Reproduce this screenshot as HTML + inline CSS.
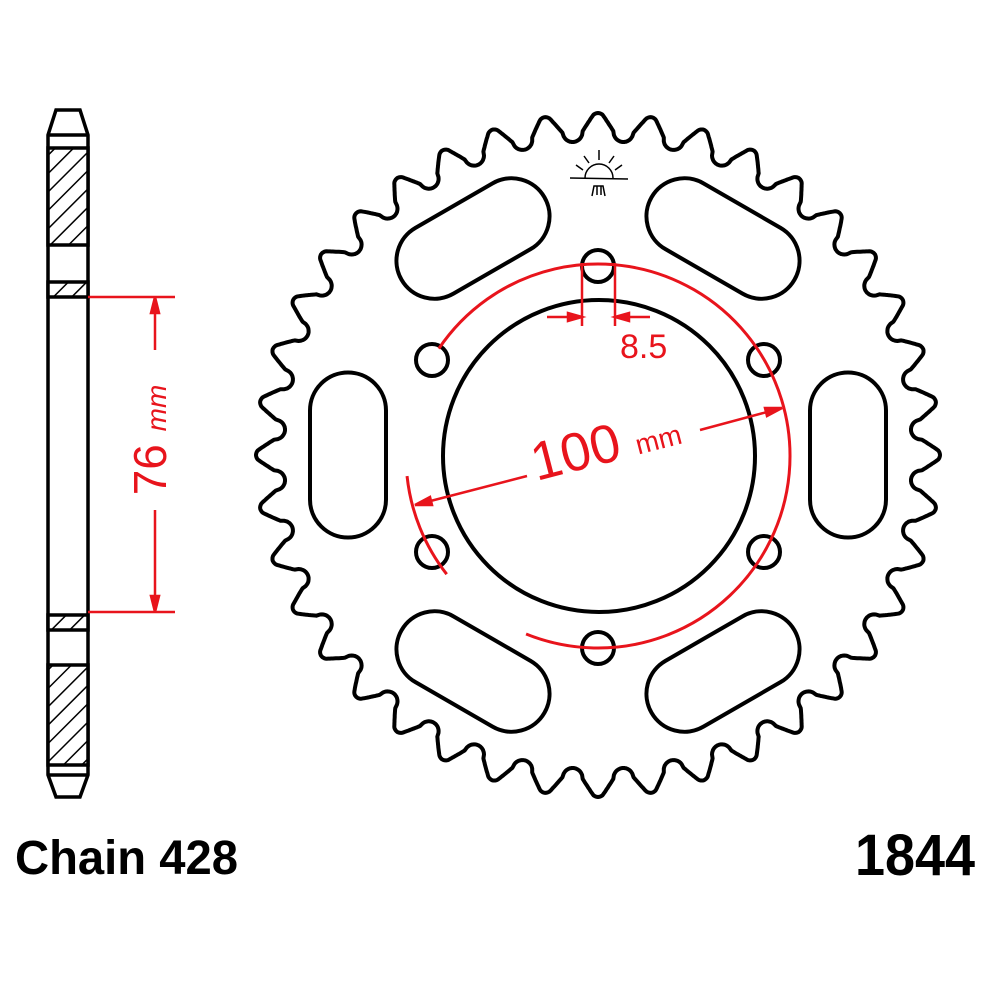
<!DOCTYPE html>
<html><head><meta charset="utf-8"><style>
html,body{margin:0;padding:0;background:#fff;}
svg{display:block}
</style></head><body>
<svg id="s" width="1000" height="1000" viewBox="0 0 1000 1000" xmlns="http://www.w3.org/2000/svg">
<defs>
<pattern id="h" patternUnits="userSpaceOnUse" width="13" height="13" patternTransform="rotate(45)">
<rect width="13" height="13" fill="#fff"/><line x1="0" y1="0" x2="0" y2="13" stroke="#000" stroke-width="3"/>
</pattern>
</defs>
<g stroke="#000" stroke-width="3.5" fill="none">
<path d="M56,110 L80,110 L88,135 L88,775 L80,797 L56,797 L48,775 L48,135 Z" fill="#fff"/>
<rect x="48" y="148" width="40" height="97" fill="url(#h)"/>
<rect x="48" y="282" width="40" height="15" fill="url(#h)"/>
<rect x="48" y="615" width="40" height="15" fill="url(#h)"/>
<rect x="48" y="665" width="40" height="100" fill="url(#h)"/>
<line x1="48" y1="135" x2="88" y2="135"/>
<line x1="48" y1="775" x2="88" y2="775"/>
</g>
<g stroke="#e8141c" stroke-width="2.5" fill="#e8141c">
<line x1="88" y1="297" x2="175" y2="297"/>
<line x1="88" y1="612" x2="175" y2="612"/>
<line x1="155" y1="297" x2="155" y2="350"/>
<line x1="155" y1="510" x2="155" y2="612"/>
<path d="M155,297 L151,313 L159,313 Z"/>
<path d="M155,612 L151,596 L159,596 Z"/>
</g>
<text transform="translate(166,440) rotate(-90)" text-anchor="middle" font-family="Liberation Sans, sans-serif" fill="#e8141c" font-size="46">76 <tspan font-size="28" font-style="italic">mm</tspan></text>

<path id="teeth" fill="none" stroke="#000" stroke-width="4" stroke-linejoin="round"/>
<g fill="none" stroke="#000" stroke-width="4">
<circle cx="599" cy="456" r="156"/>
<circle cx="598" cy="266" r="16"/>
<circle cx="598" cy="648" r="16"/>
<circle cx="432" cy="360" r="16"/>
<circle cx="764" cy="360" r="16"/>
<circle cx="432" cy="552" r="16"/>
<circle cx="764" cy="552" r="16"/>
<g id="slots"></g>
</g>
<g stroke="#000" stroke-width="1.5" fill="none">
<path d="M585,178 A14,14 0 0 1 613,178"/>
<line x1="570" y1="178" x2="628" y2="179"/>
<line x1="599" y1="160" x2="599" y2="150"/>
<line x1="589" y1="163" x2="584" y2="156"/>
<line x1="609" y1="163" x2="614" y2="156"/>
<line x1="583" y1="170" x2="576" y2="165"/>
<line x1="615" y1="170" x2="622" y2="165"/>
<path d="M592,196 L594,186 L603,186 L605,196 M597,186 L597,195 M601,186 L601,195"/>
</g>
<g stroke="#e8141c" stroke-width="3" fill="none" id="red"></g>
<g stroke="#e8141c" stroke-width="2.5" fill="#e8141c">
<line x1="415" y1="505" x2="527" y2="476"/>
<line x1="700" y1="430" x2="782" y2="408"/>
<path d="M415,505 L430,497 L432,505 Z"/>
<path d="M782,408 L767,416 L765,408 Z"/>
<line x1="582" y1="263" x2="582" y2="326"/>
<line x1="615" y1="263" x2="615" y2="326"/>
<line x1="547" y1="317" x2="582" y2="317"/>
<line x1="615" y1="317" x2="650" y2="317"/>
<path d="M582,317 L568,313 L568,321 Z"/>
<path d="M615,317 L629,313 L629,321 Z"/>
</g>
<text x="620" y="358" font-family="Liberation Sans, sans-serif" fill="#e8141c" font-size="34">8.5</text>
<text transform="translate(610,462) rotate(-14.5)" text-anchor="middle" font-family="Liberation Sans, sans-serif" fill="#e8141c" font-size="54">100 <tspan font-size="28">mm</tspan></text>

<text x="15" y="874" font-family="Liberation Sans, sans-serif" font-weight="bold" font-size="48" textLength="223" lengthAdjust="spacingAndGlyphs">Chain 428</text>
<text x="855" y="875" font-family="Liberation Sans, sans-serif" font-weight="bold" font-size="58" textLength="120" lengthAdjust="spacingAndGlyphs">1844</text>
</svg>
<script>
(function(){
var cx=598,cy=455,N=40,p=2*Math.PI/N,d="";
var Rc=324,rho=10,tip=0.09;
function r(u){var a=Math.abs(u);
 if(a<tip)return 342-2*(a/tip)*(a/tip);
 var e=0.5-rho/(p*Rc);
 if(a<e)return 340-(340-Rc)*(a-tip)/(e-tip);
 var s=(0.5-a)*p*Rc;return Rc-Math.sqrt(Math.max(0,rho*rho-s*s));}
var M=60;
for(var k=0;k<N;k++){for(var j=0;j<M;j++){var u=-0.5+j/M;var th=-Math.PI/2+(k+u)*p;var R=r(u);
 var x=cx+R*Math.cos(th),y=cy+R*Math.sin(th);d+=(d?"L":"M")+x.toFixed(1)+","+y.toFixed(1);}}
d+="Z";document.getElementById("teeth").setAttribute("d",d);
var g=document.getElementById("slots"),ns="http://www.w3.org/2000/svg";
[180,240,300,0,60,120].forEach(function(a){var t=a*Math.PI/180,R=250;
 var x=cx+R*Math.cos(t),y=cy+R*Math.sin(t);
 var rc=document.createElementNS(ns,"rect");var L=165,W=76;
 rc.setAttribute("x",-W/2);rc.setAttribute("y",-L/2);rc.setAttribute("width",W);rc.setAttribute("height",L);
 rc.setAttribute("rx",W/2);rc.setAttribute("ry",W/2);
 rc.setAttribute("transform","translate("+x.toFixed(1)+","+y.toFixed(1)+") rotate("+a+")");g.appendChild(rc);});
var red=document.getElementById("red"),rcx=598,rcy=456,RR=192;
function arc(a1,a2){var t1=a1*Math.PI/180,t2=a2*Math.PI/180;
 var x1=rcx+RR*Math.cos(t1),y1=rcy+RR*Math.sin(t1),x2=rcx+RR*Math.cos(t2),y2=rcy+RR*Math.sin(t2);
 var span=((a2-a1)%360+360)%360;var pth=document.createElementNS(ns,"path");
 pth.setAttribute("d","M"+x1+","+y1+" A"+RR+","+RR+" 0 "+(span>180?1:0)+" 1 "+x2+","+y2);red.appendChild(pth);}
arc(214,472);arc(142,174);
})();
</script>
</body></html>
